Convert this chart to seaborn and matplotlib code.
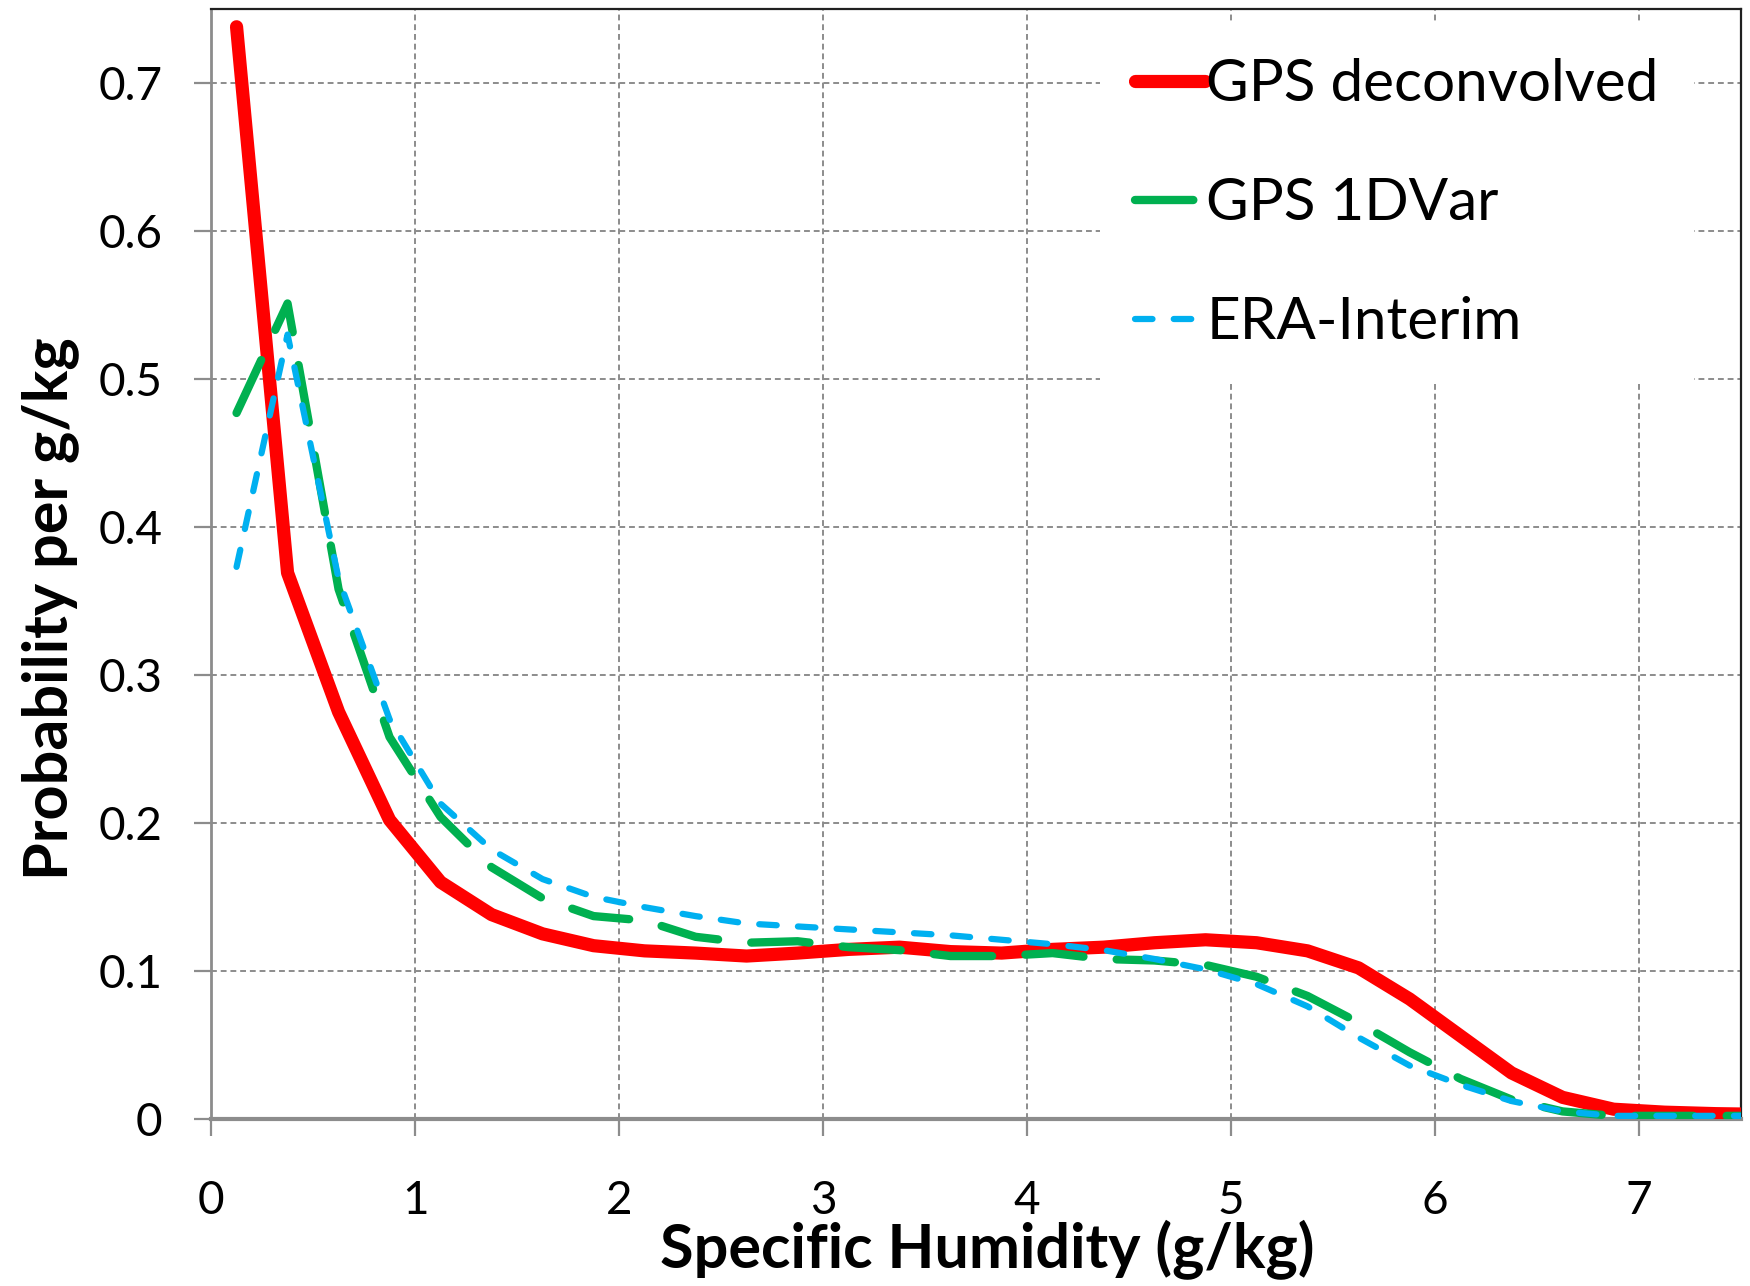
import matplotlib
matplotlib.use("Agg")
import matplotlib.pyplot as plt
import numpy as np
import pandas as pd
import seaborn as sns

# Bin centres of specific humidity (g/kg)
humidity = [0.125, 0.375, 0.625, 0.875, 1.125, 1.375, 1.625, 1.875, 2.125, 2.375,
            2.625, 2.875, 3.125, 3.375, 3.625, 3.875, 4.125, 4.375, 4.625, 4.875,
            5.125, 5.375, 5.625, 5.875, 6.125, 6.375, 6.625, 6.875, 7.125, 7.375, 7.625]

gps_deconvolved = [0.738, 0.369, 0.275, 0.202, 0.160, 0.138, 0.125, 0.117, 0.1135, 0.112,
                   0.110, 0.112, 0.1145, 0.116, 0.113, 0.112, 0.1145, 0.116, 0.119, 0.121,
                   0.119, 0.1135, 0.102, 0.081, 0.056, 0.031, 0.0145, 0.0065, 0.0045, 0.0035, 0.003]

gps_1dvar = [0.477, 0.551, 0.358, 0.258, 0.204, 0.170, 0.149, 0.137, 0.134, 0.123,
             0.119, 0.120, 0.116, 0.114, 0.110, 0.110, 0.112, 0.108, 0.107, 0.104,
             0.096, 0.083, 0.065, 0.045, 0.027, 0.013, 0.005, 0.002, 0.002, 0.002, 0.002]

era_interim = [0.373, 0.530, 0.365, 0.270, 0.213, 0.182, 0.162, 0.150, 0.143, 0.137,
               0.132, 0.130, 0.128, 0.126, 0.124, 0.121, 0.118, 0.114, 0.108, 0.101,
               0.091, 0.076, 0.055, 0.036, 0.023, 0.012, 0.005, 0.002, 0.002, 0.002, 0.002]

series_names = ["GPS deconvolved", "GPS 1DVar", "ERA-Interim"]
x_ticks = [0, 1, 2, 3, 4, 5, 6, 7]
y_ticks = [0, 0.1, 0.2, 0.3, 0.4, 0.5, 0.6, 0.7]
y_tick_labels = ["0", "0.1", "0.2", "0.3", "0.4", "0.5", "0.6", "0.7"]

sns.set_style("white")
plt.rcParams["font.family"] = ["Lato", "DejaVu Sans"]
plt.rcParams["text.color"] = "black"
plt.rcParams["axes.labelcolor"] = "black"
plt.rcParams["xtick.labelcolor"] = "black"
plt.rcParams["ytick.labelcolor"] = "black"

fig = plt.figure(figsize=(17.5, 12.86), dpi=100)
ax = fig.add_axes([0.1206, 0.130, 0.8743, 0.863])

styles = [
    dict(color="#FF0000", lw=9.5, dashes=None),
    dict(color="#00B050", lw=6.0, dashes=(7.0, 4.0)),
    dict(color="#00B0F0", lw=4.5, dashes=(2.8, 3.4)),
]
values = [gps_deconvolved, gps_1dvar, era_interim]

handles = []
for name, vals, st in zip(series_names, values, styles):
    df = pd.DataFrame({"q": humidity, "p": vals})
    sns.lineplot(data=df, x="q", y="p", ax=ax, color=st["color"], lw=st["lw"],
                 legend=False, zorder=3)
    line = ax.lines[-1]
    line.set_solid_capstyle("round")
    line.set_dash_capstyle("round")
    line.set_solid_joinstyle("round")
    line.set_dash_joinstyle("round")
    if st["dashes"] is not None:
        line.set_dashes(st["dashes"])
    line.set_label(name)
    handles.append(line)

ax.set_xlim(0, 7.5)
ax.set_ylim(0, 0.75)
ax.set_xticks(x_ticks)
ax.set_yticks(y_ticks)
ax.set_xticklabels([str(t) for t in x_ticks])
ax.set_yticklabels(y_tick_labels)

ax.grid(True, which="major", color="#8c8c8c", lw=1.4, ls=(0, (3.0, 2.0)), zorder=0)
ax.set_axisbelow(True)

for side in ["top", "right"]:
    ax.spines[side].set_color("#202020")
    ax.spines[side].set_linewidth(1.6)
ax.spines["left"].set_color("#8c8c8c")
ax.spines["left"].set_linewidth(2.0)
ax.spines["bottom"].set_color("#8c8c8c")
ax.spines["bottom"].set_linewidth(3.0)

ax.tick_params(axis="both", which="major", direction="out", length=12, width=1.6,
               color="#8c8c8c", labelsize=33, labelcolor="black", bottom=True, left=True)
ax.tick_params(axis="x", pad=32)
ax.tick_params(axis="y", pad=23)

ax.set_xlabel("Specific Humidity (g/kg)", fontsize=44, fontweight="bold", va="center",
              color="black")
ax.xaxis.set_label_coords(0.507, -0.118)
ax.set_ylabel("Probability per g/kg", fontsize=44, fontweight="bold", va="center",
              color="black")
ax.yaxis.set_label_coords(-0.105, 0.46)

leg = ax.legend(handles=handles, labels=series_names, loc="upper left",
                bbox_to_anchor=(0.581, 0.987), fontsize=42, frameon=True,
                facecolor="white", edgecolor="none", framealpha=1.0, fancybox=False,
                handlelength=1.2, handletextpad=0.02, labelspacing=1.13,
                borderpad=0.6, borderaxespad=0.0)
for txt in leg.get_texts():
    txt.set_color("black")
leg.set_zorder(5)

fig.savefig("out.png", dpi=100)
